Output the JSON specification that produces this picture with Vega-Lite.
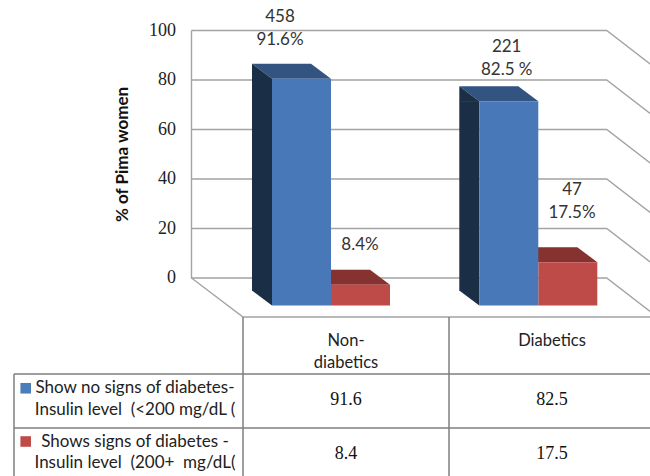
{
  "$schema": "https://vega.github.io/schema/vega-lite/v6.json",
  "width": 650,
  "height": 476,
  "padding": 0,
  "autosize": "none",
  "background": "white",
  "config": {"view": {"stroke": null}},
  "datasets": {
    "bars": [
      {"category": "Non-diabetics", "series": "Show no signs of diabetes", "value": 91.6, "label": "458\n91.6%"},
      {"category": "Non-diabetics", "series": "Shows signs of diabetes", "value": 8.4, "label": "8.4%"},
      {"category": "Diabetics", "series": "Show no signs of diabetes", "value": 82.5, "label": "221\n82.5 %"},
      {"category": "Diabetics", "series": "Shows signs of diabetes", "value": 17.5, "label": "47\n17.5%"}
    ],
    "ticks": [{"tick": 0}, {"tick": 20}, {"tick": 40}, {"tick": 60}, {"tick": 80}, {"tick": 100}],
    "rows": [
      {"series": "Show no signs of diabetes", "text": "Show no signs of diabetes-\nInsulin level \u00a0(<200 mg/dL ("},
      {"series": "Shows signs of diabetes", "text": "Shows signs of diabetes -\nInsulin level \u00a0(200+ \u00a0mg/dL("}
    ],
    "columns": [
      {"category": "Non-diabetics", "text": "Non-\ndiabetics"},
      {"category": "Diabetics", "text": "Diabetics"}
    ]
  },
  "resolve": {"scale": {"x": "independent", "y": "independent"}},
  "layer": [
    {
      "encoding": {
        "x": {"field": "category", "type": "nominal", "axis": null,
          "scale": {"type": "band", "domain": ["Non-diabetics", "Diabetics"], "range": [227.35, 641.95], "paddingInner": 0.4, "paddingOuter": 0.2}},
        "y": {"field": "value", "type": "quantitative", "stack": null,
          "scale": {"domain": [-80, 112.32], "range": [476, 0], "nice": false, "zero": false},
          "axis": {"title": "% of Pima women", "values": [0, 20, 40, 60, 80, 100], "offset": -191.5, "domain": false, "ticks": false, "grid": false,
            "labelPadding": 16, "labelFont": "serif", "labelFontSize": 18, "labelColor": "#222222",
            "titleFont": "Lato", "titleFontWeight": "bold", "titleFontSize": 17, "titleColor": "#111111", "titleAngle": -90, "titleX": -69, "titleY": 154, "titleAlign": "center", "titleBaseline": "middle"}}
      },
      "layer": [
        {
          "data": {"name": "ticks"},
          "mark": {"type": "point", "shape": "M-133.5,0L281.7,0L335,41", "size": 4, "filled": false, "stroke": "#a3a3a3", "strokeWidth": 1.4, "opacity": 1},
          "encoding": {"x": {"value": 325}, "y": {"field": "tick", "type": "quantitative"}}
        },
        {
          "data": {"values": [{"part": "walls"}]},
          "mark": {"type": "point", "shape": "M-133.5,-207.5L-133.5,40L-82,79L335,79", "size": 4, "filled": false, "stroke": "#a3a3a3", "strokeWidth": 1.4, "opacity": 1},
          "encoding": {"x": {"value": 325}, "y": {"value": 238}}
        },
        {
          "data": {"name": "bars"},
          "transform": [{"filter": "datum.series == 'Shows signs of diabetes'"}],
          "mark": {"type": "point", "shape": "M0,27.5L59,27.5L39,12.5L-20,12.5Z", "size": 4, "filled": true, "fill": "#853230", "stroke": null, "opacity": 1}
        },
        {
          "data": {"name": "bars"},
          "transform": [{"filter": "datum.series == 'Shows signs of diabetes'"}],
          "mark": {"type": "bar", "width": 59, "xOffset": 29.5, "yOffset": 27.5, "y2Offset": 27.5, "fill": "#be4b48"},
          "encoding": {"y2": {"datum": 0}}
        },
        {
          "data": {"name": "bars"},
          "transform": [{"filter": "datum.series == 'Show no signs of diabetes'"}],
          "mark": {"type": "point", "shape": "M-59,27.5L0,27.5L-20,12.5L-79,12.5Z", "size": 4, "filled": true, "fill": "#335480", "stroke": null, "opacity": 1}
        },
        {
          "data": {"name": "bars"},
          "transform": [{"filter": "datum.series == 'Show no signs of diabetes'"}],
          "mark": {"type": "point", "shape": "M-79,12.5L-59,27.5L-59,28L-79,28Z", "size": 4, "filled": true, "fill": "#1a2e45", "stroke": null, "opacity": 1}
        },
        {
          "data": {"name": "bars"},
          "transform": [{"filter": "datum.series == 'Show no signs of diabetes'"}],
          "mark": {"type": "point", "shape": "M-79,12L-59,12L-59,27.5L-79,12.5Z", "size": 4, "filled": true, "fill": "#1a2e45", "stroke": null, "opacity": 1},
          "encoding": {"y": {"datum": 0, "type": "quantitative"}}
        },
        {
          "data": {"name": "bars"},
          "transform": [{"filter": "datum.series == 'Show no signs of diabetes'"}],
          "mark": {"type": "bar", "width": 20, "xOffset": -69, "yOffset": 27.5, "y2Offset": 12.5, "fill": "#1a2e45"},
          "encoding": {"y2": {"datum": 0}}
        },
        {
          "data": {"name": "bars"},
          "transform": [{"filter": "datum.series == 'Show no signs of diabetes'"}],
          "mark": {"type": "bar", "width": 59, "xOffset": -29.5, "yOffset": 27.5, "y2Offset": 27.5, "fill": "#4878b8"},
          "encoding": {"y2": {"datum": 0}}
        },
        {
          "data": {"name": "bars"},
          "transform": [{"filter": "datum.category == 'Non-diabetics' && datum.series == 'Show no signs of diabetes'"}],
          "mark": {"type": "text", "lineBreak": "\n", "lineHeight": 23, "font": "Lato", "fontSize": 17, "color": "#333333", "align": "center", "baseline": "alphabetic", "xOffset": -51, "yOffset": -29},
          "encoding": {"text": {"field": "label"}}
        },
        {
          "data": {"name": "bars"},
          "transform": [{"filter": "datum.category == 'Non-diabetics' && datum.series == 'Shows signs of diabetes'"}],
          "mark": {"type": "text", "lineBreak": "\n", "lineHeight": 23, "font": "Lato", "fontSize": 17, "color": "#333333", "align": "center", "baseline": "alphabetic", "xOffset": 29, "yOffset": -7.7},
          "encoding": {"text": {"field": "label"}}
        },
        {
          "data": {"name": "bars"},
          "transform": [{"filter": "datum.category == 'Diabetics' && datum.series == 'Show no signs of diabetes'"}],
          "mark": {"type": "text", "lineBreak": "\n", "lineHeight": 23, "font": "Lato", "fontSize": 17, "color": "#333333", "align": "center", "baseline": "alphabetic", "xOffset": -31.6, "yOffset": -22.3},
          "encoding": {"text": {"field": "label"}}
        },
        {
          "data": {"name": "bars"},
          "transform": [{"filter": "datum.category == 'Diabetics' && datum.series == 'Shows signs of diabetes'"}],
          "mark": {"type": "text", "lineBreak": "\n", "lineHeight": 23, "font": "Lato", "fontSize": 17, "color": "#333333", "align": "center", "baseline": "alphabetic", "xOffset": 33.7, "yOffset": -40},
          "encoding": {"text": {"field": "label"}}
        }
      ]
    },
    {
      "encoding": {
        "x": {"field": "category", "type": "nominal", "axis": null,
          "scale": {"type": "point", "padding": 0, "domain": ["Series", "Non-diabetics", "Diabetics"], "range": [140, 552]}},
        "y": {"field": "series", "type": "nominal", "axis": null,
          "scale": {"type": "point", "padding": 0, "domain": ["Header", "Show no signs of diabetes", "Shows signs of diabetes"], "range": [340, 446.5]}}
      },
      "layer": [
        {
          "data": {"values": [{"part": "grid"}]},
          "mark": {"type": "point", "shape": "M-82,79L-82,238M124,79L124,238M-311,136L335,136M-311,190L335,190M-311,136L-311,238", "size": 4, "filled": false, "stroke": "#808080", "strokeWidth": 1.5, "opacity": 1},
          "encoding": {"x": {"value": 325}, "y": {"value": 238}}
        },
        {
          "data": {"name": "columns"},
          "mark": {"type": "text", "lineBreak": "\n", "lineHeight": 22, "font": "Lato", "fontSize": 16.5, "color": "#222222", "align": "center", "baseline": "alphabetic", "yOffset": 6},
          "encoding": {"y": {"datum": "Header"}, "text": {"field": "text"}}
        },
        {
          "data": {"name": "rows"},
          "mark": {"type": "text", "lineBreak": "\n", "lineHeight": 21.5, "font": "Lato", "fontSize": 17, "color": "#222222", "align": "center", "baseline": "alphabetic", "xOffset": -5},
          "encoding": {"x": {"datum": "Series"}, "text": {"field": "text"}}
        },
        {
          "data": {"name": "rows"},
          "mark": {"type": "point", "shape": "square", "filled": true, "size": 112, "opacity": 1, "xOffset": -114.3, "yOffset": -5},
          "encoding": {
            "x": {"datum": "Series"},
            "color": {"field": "series", "type": "nominal", "legend": null,
              "scale": {"domain": ["Show no signs of diabetes", "Shows signs of diabetes"], "range": ["#4a7ebb", "#be4b48"]}}
          }
        },
        {
          "data": {"name": "bars"},
          "mark": {"type": "text", "font": "serif", "fontSize": 18, "color": "#111111", "align": "center", "baseline": "alphabetic", "yOffset": 12},
          "encoding": {"text": {"field": "value", "type": "quantitative", "format": ".1f"}}
        }
      ]
    }
  ]
}
